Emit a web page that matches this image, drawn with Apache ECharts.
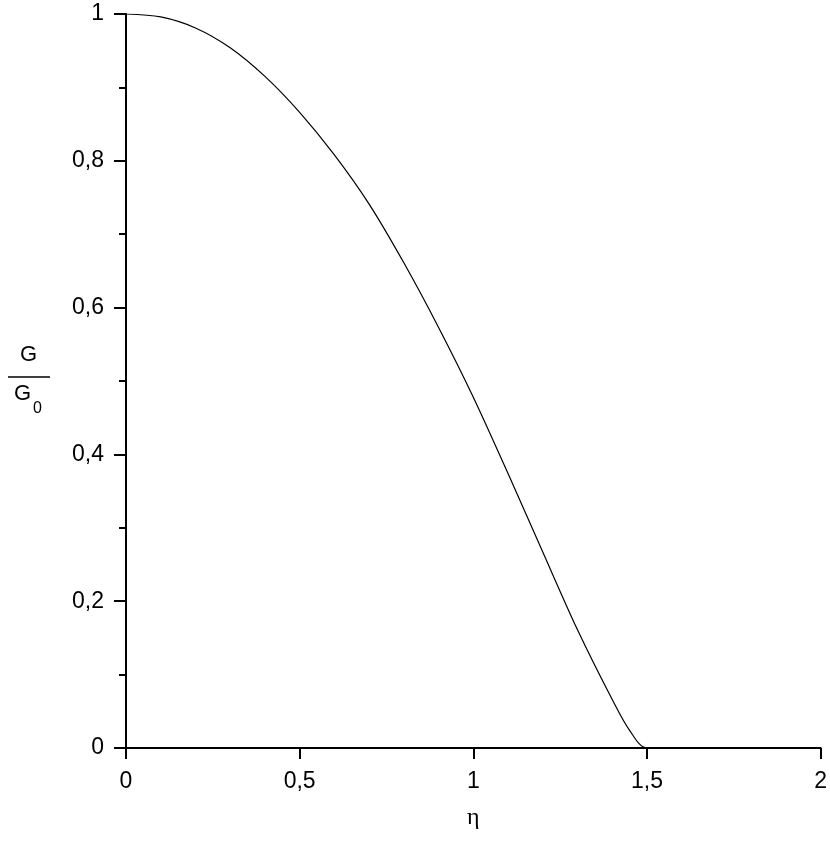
<!DOCTYPE html>
<html>
<head>
<meta charset="utf-8">
<script src="https://cdn.jsdelivr.net/npm/echarts@6/dist/echarts.min.js"></script>
<style>
html,body{margin:0;padding:0;background:#fff;}
#main{width:830px;height:848px;}
</style>
</head>
<body>
<div id="main"></div>
<script>
// eta values and G/G0
var etaValues = [0, 0.1, 0.2, 0.3, 0.4, 0.5, 0.6, 0.7, 0.8, 0.9, 1.0, 1.1, 1.2, 1.3, 1.4, 1.45, 1.5, 2.0];
var ratioValues = [1.0, 0.996, 0.981, 0.954, 0.915, 0.866, 0.808, 0.741, 0.661, 0.573, 0.478, 0.374, 0.267, 0.161, 0.066, 0.024, 0.0, 0.0];
var xTickLabels = {0: '0', 0.5: '0,5', 1: '1', 1.5: '1,5', 2: '2'};
var yTickLabels = {0: '0', 0.2: '0,2', 0.4: '0,4', 0.6: '0,6', 0.8: '0,8', 1: '1'};
var xAxisName = 'η';

var data = etaValues.map(function (e, i) { return [e, ratioValues[i]]; });

function fmt(map) {
  return function (v) {
    var k = Math.round(v * 10) / 10;
    return map.hasOwnProperty(k) ? map[k] : '';
  };
}

var chart = echarts.init(document.getElementById('main'), null, {renderer: 'canvas'});
chart.setOption({
  animation: false,
  backgroundColor: '#ffffff',
  grid: {left: 126, right: 4, top: 14, bottom: 100, containLabel: false},
  xAxis: {
    type: 'value', min: 0, max: 2, interval: 0.5,
    name: xAxisName, nameLocation: 'middle', nameGap: 58,
    nameTextStyle: {fontFamily: 'Liberation Serif', fontSize: 24, color: '#000'},
    axisLine: {onZero: false, lineStyle: {color: '#000', width: 2}},
    axisTick: {show: true, inside: false, length: 11, lineStyle: {color: '#000', width: 2}},
    minorTick: {show: false},
    splitLine: {show: false},
    axisLabel: {margin: 22, fontFamily: 'Liberation Sans', fontSize: 23, color: '#000', formatter: fmt(xTickLabels), showMinLabel: true, showMaxLabel: true}
  },
  yAxis: {
    type: 'value', min: 0, max: 1, interval: 0.2,
    axisLine: {onZero: false, lineStyle: {color: '#000', width: 2}},
    axisTick: {show: true, inside: false, length: 12, lineStyle: {color: '#000', width: 2}},
    minorTick: {show: true, splitNumber: 2, length: 7, lineStyle: {color: '#000', width: 2}},
    splitLine: {show: false},
    minorSplitLine: {show: false},
    axisLabel: {margin: 22, fontFamily: 'Liberation Sans', fontSize: 23, color: '#000', formatter: fmt(yTickLabels)}
  },
  graphic: [
    {type: 'text', left: 20, top: 344, style: {text: 'G', font: '22px "Liberation Sans"', fill: '#000'}},
    {type: 'line', shape: {x1: 8, y1: 377, x2: 50, y2: 377}, style: {stroke: '#000', lineWidth: 1.5}},
    {type: 'text', left: 14, top: 383, style: {text: 'G', font: '22px "Liberation Sans"', fill: '#000'}},
    {type: 'text', left: 33, top: 401, style: {text: '0', font: '16px "Liberation Sans"', fill: '#000'}}
  ],
  series: [{
    type: 'line',
    data: data,
    smooth: 0.3,
    showSymbol: false,
    symbol: 'none',
    lineStyle: {color: '#000', width: 1.2},
    z: 1
  }]
});
</script>
</body>
</html>
